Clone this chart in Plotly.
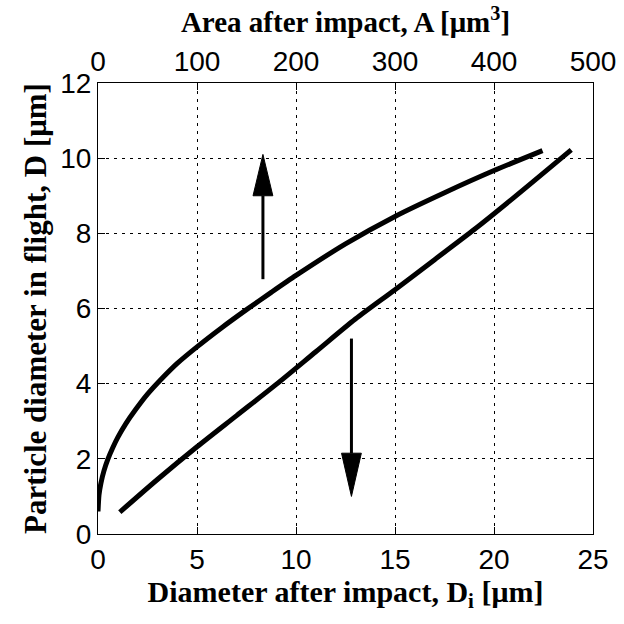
import plotly.graph_objects as go

# Curve vs area after impact (top axis)
area_A = [0, 1, 3, 6, 10, 15, 20, 28, 38, 50, 65, 80, 100, 125, 150, 175, 200, 250, 300, 350, 400, 449]
area_D = [0.6, 1.04, 1.36, 1.68, 1.99, 2.3, 2.57, 2.93, 3.31, 3.72, 4.15, 4.54, 4.98, 5.49, 5.97,
          6.43, 6.88, 7.72, 8.45, 9.08, 9.67, 10.2]

# Curve vs diameter after impact (bottom axis)
diam_Di = [1.1, 3, 5, 7, 9, 11, 13, 15, 17, 19, 21, 23.9]
diam_D = [0.58, 1.45, 2.32, 3.15, 3.98, 4.85, 5.72, 6.5, 7.3, 8.1, 8.95, 10.22]

# Arrows: x position, start y, tip y, head-base y
arrow_x = [8.33, 12.8]
arrow_y0 = [6.78, 5.2]
arrow_tip = [10.1, 1.0]
arrow_base = [9.0, 2.15]
head_half = 0.5

tick_font = dict(family="Liberation Sans, Arial", size=28, color="black")
title_font_x = dict(family="Liberation Serif, Times New Roman", size=30, color="black", weight="bold")
title_font_top = dict(family="Liberation Serif, Times New Roman", size=29, color="black", weight="bold")
title_font_y = dict(family="Liberation Serif, Times New Roman", size=31, color="black", weight="bold")

fig = go.Figure()
fig.add_trace(go.Scatter(x=diam_Di, y=diam_D, mode="lines", xaxis="x", yaxis="y",
                         line=dict(color="black", width=5, shape="spline", smoothing=0.8),
                         showlegend=False))
fig.add_trace(go.Scatter(x=area_A, y=area_D, mode="lines", xaxis="x2", yaxis="y",
                         line=dict(color="black", width=5, shape="spline", smoothing=0.6),
                         showlegend=False))

shapes = []
for x, y0, tip, base in zip(arrow_x, arrow_y0, arrow_tip, arrow_base):
    shapes.append(dict(type="line", xref="x", yref="y", x0=x, x1=x, y0=y0, y1=base,
                       line=dict(color="black", width=3)))
    shapes.append(dict(type="path", xref="x", yref="y",
                       path=f"M {x - head_half} {base} L {x + head_half} {base} L {x} {tip} Z",
                       fillcolor="black", line=dict(color="black", width=1)))

grid = dict(showgrid=True, gridcolor="black", gridwidth=1, griddash="3px,5px")
fig.update_layout(
    width=624, height=624,
    margin=dict(l=98, r=31, t=83, b=90, autoexpand=False),
    plot_bgcolor="white", paper_bgcolor="white",
    shapes=shapes,
    xaxis=dict(range=[0, 25], tickvals=[0, 5, 10, 15, 20, 25], ticks="inside", ticklen=7,
               tickcolor="black", showline=True, linecolor="black", linewidth=1,
               tickfont=tick_font, zeroline=False, automargin=False,
               title=dict(text="Diameter after impact, D<sub>i</sub> [μm]", font=title_font_x, standoff=2),
               **grid),
    xaxis2=dict(range=[0, 500], tickvals=[0, 100, 200, 300, 400, 500], overlaying="x", side="top",
                ticks="inside", ticklen=7, tickcolor="black", showline=True, linecolor="black",
                linewidth=1, tickfont=tick_font, zeroline=False, showgrid=False, automargin=False,
                title=dict(text="Area after impact, A [μm<sup>3</sup>]", font=title_font_top, standoff=4)),
    yaxis=dict(range=[0, 12], tickvals=[0, 2, 4, 6, 8, 10, 12], ticks="inside", ticklen=7,
               tickcolor="black", showline=True, linecolor="black", linewidth=1, mirror="ticks",
               tickfont=tick_font, zeroline=False, automargin=False,
               title=dict(text="Particle diameter in flight, D [μm]", font=title_font_y, standoff=4),
               **grid),
)

fig.write_html("out.html", config={"displayModeBar": False},
               post_script="document.body.style.margin='0';document.body.style.padding='0';")
